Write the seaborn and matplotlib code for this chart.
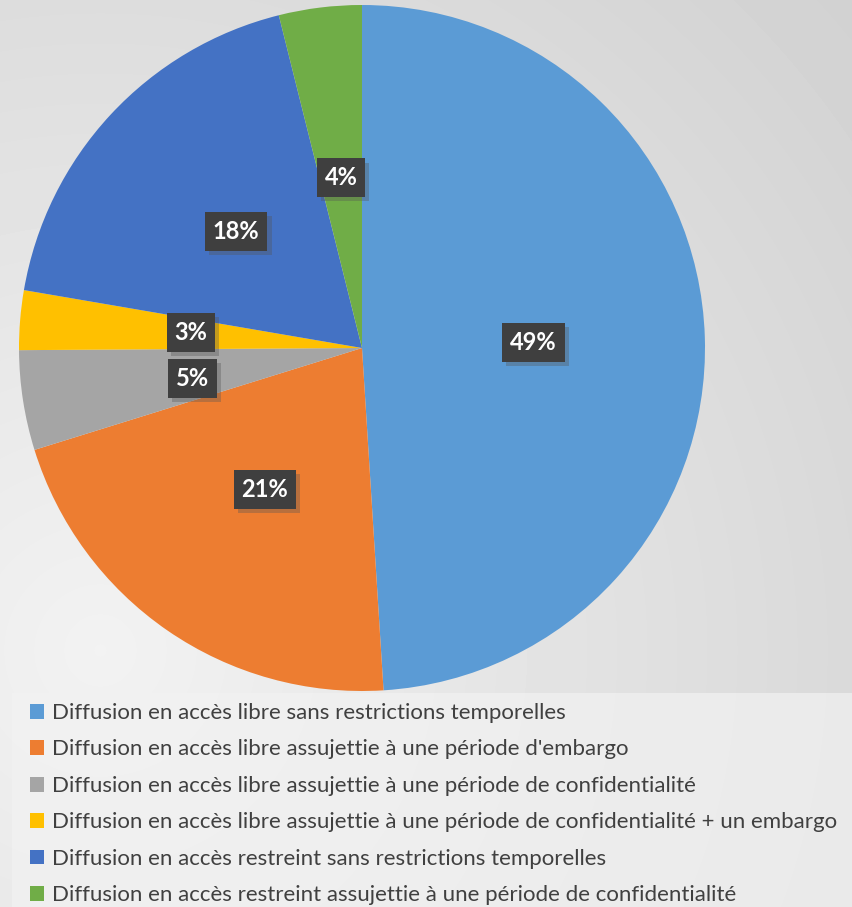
import matplotlib
matplotlib.use("Agg")
import matplotlib.pyplot as plt
import matplotlib.patheffects as pe
from matplotlib.patches import Rectangle
import numpy as np
import seaborn as sns

sns.set_theme(style="white")
plt.rcParams["font.family"] = ["Lato", "DejaVu Sans"]

categories = [
    "Diffusion en accès libre sans restrictions temporelles",
    "Diffusion en accès libre assujettie à une période d'embargo",
    "Diffusion en accès libre assujettie à une période de confidentialité",
    "Diffusion en accès libre assujettie à une période de confidentialité + un embargo",
    "Diffusion en accès restreint sans restrictions temporelles",
    "Diffusion en accès restreint assujettie à une période de confidentialité",
]
shares = [49.0, 21.2, 4.7, 2.8, 18.4, 3.9]
colors = ["#5b9bd5", "#ed7d31", "#a5a5a5", "#ffc000", "#4472c4", "#70ad47"]

W, H = 852, 907
fig = plt.figure(figsize=(W / 100, H / 100), dpi=100)

# soft grey gradient background, lightest toward lower left
bg = fig.add_axes([0, 0, 1, 1])
yy, xx = np.mgrid[0:H, 0:W]
d = np.hypot(xx - 100, yy - 650)
shade = 0.95 - 0.13 * np.clip(d / 1000, 0, 1)
bg.imshow(shade, cmap="gray", vmin=0, vmax=1, aspect="auto", extent=[0, 1, 0, 1])
bg.set_axis_off()

cx, cy, r = 362, 348, 343
ax = fig.add_axes([(cx - r) / W, 1 - (cy + r) / H, 2 * r / W, 2 * r / H])
wedges, texts, autotexts = ax.pie(
    shares, colors=colors, startangle=90, counterclock=False,
    autopct="%.0f%%", pctdistance=0.5,
    wedgeprops=dict(linewidth=0),
    textprops=dict(color="white", fontsize=17, fontweight="bold"),
)
ax.set_xlim(-1, 1)
ax.set_ylim(-1, 1)
ax.set_axis_off()

x, y = autotexts[2].get_position()
autotexts[2].set_position((x, y - 0.012))
x, y = autotexts[3].get_position()
autotexts[3].set_position((x, y + 0.005))

for t in autotexts:
    t.set_bbox(dict(boxstyle="square,pad=0.33", facecolor="#3f3f3f", edgecolor="none"))
    t.get_bbox_patch().set_path_effects(
        [pe.SimplePatchShadow(offset=(3, -3), shadow_rgbFace="#555555", alpha=0.35), pe.Normal()]
    )

# legend panel
fig.patches.append(Rectangle((12 / W, 0), 1 - 12 / W, 1 - 693 / H, transform=fig.transFigure,
                             facecolor="#f2f2f2", alpha=0.7, edgecolor="none", zorder=1))
leg = fig.legend(
    wedges, categories, loc="upper left",
    bbox_to_anchor=(30 / W, 1 - 703 / H),
    frameon=False, fontsize=16, labelcolor="#404040",
    handlelength=0.65, handleheight=0.65, handletextpad=0.33,
    labelspacing=0.74, borderpad=0, borderaxespad=0,
)

fig.savefig("out.png", dpi=100)
